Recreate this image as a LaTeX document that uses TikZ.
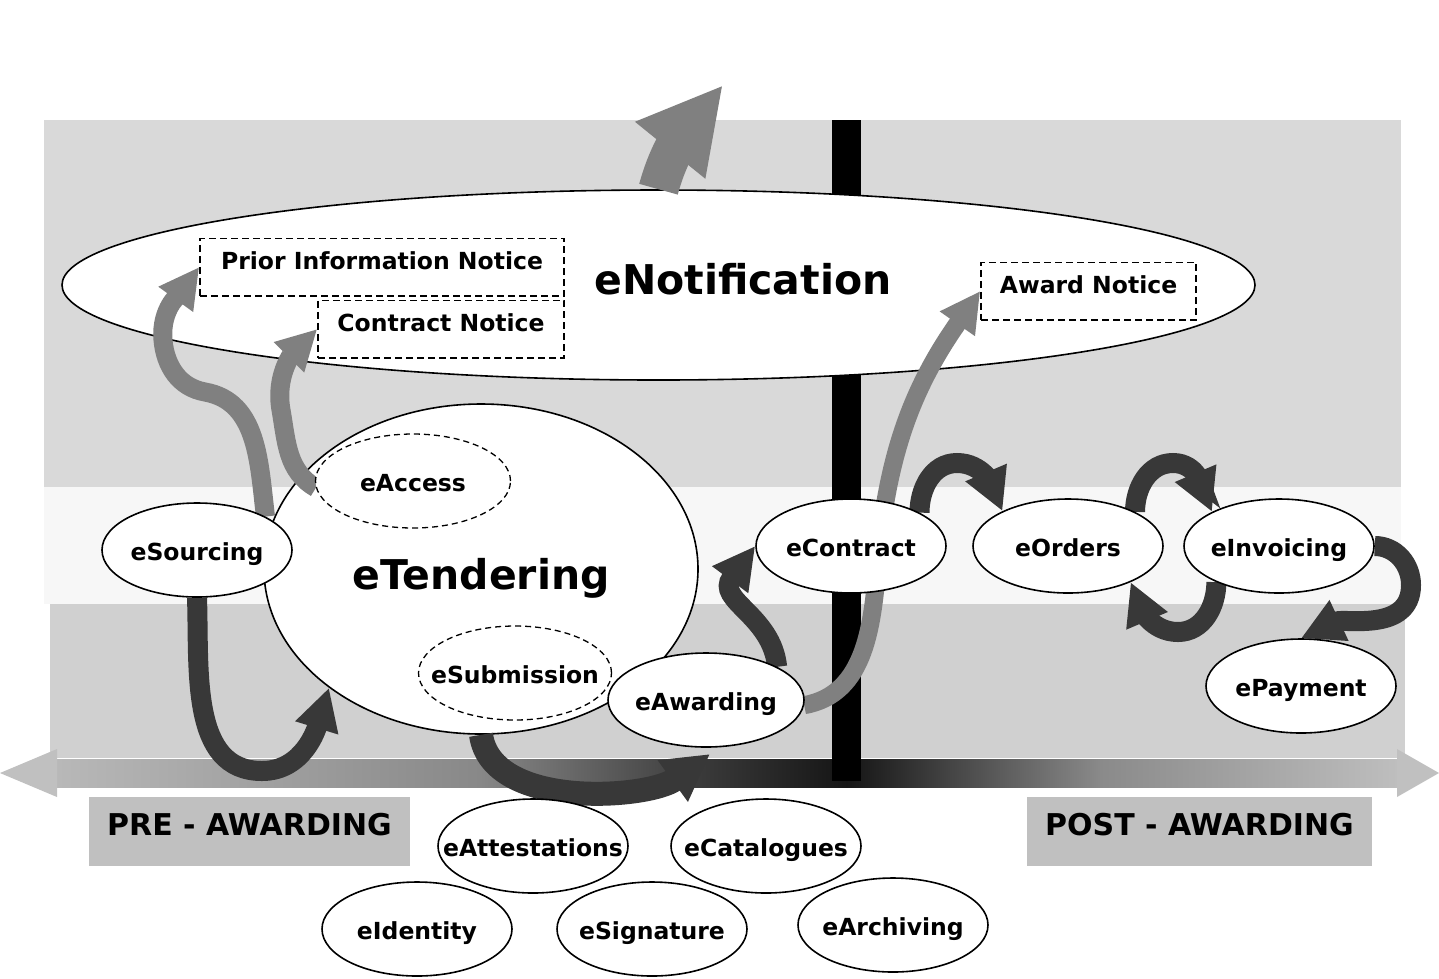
\documentclass[tikz,border=0pt]{standalone}
\usepackage{fontspec}
\setmainfont{DejaVu Sans}
\usepackage{tikz}
\usetikzlibrary{shapes.geometric,arrows.meta}
\pgfdeclarelayer{front}
\pgfsetlayers{main,front}
\definecolor{bandtop}{HTML}{D9D9D9}
\definecolor{bandmid}{HTML}{F7F7F7}
\definecolor{bandlow}{HTML}{D0D0D0}
\definecolor{phasegray}{HTML}{C0C0C0}
\definecolor{headgray}{HTML}{C0C0C0}
\definecolor{arrowgray}{HTML}{808080}
\definecolor{arrowdark}{HTML}{383838}
\definecolor{tlA}{HTML}{B8B8B8}
\definecolor{tlB}{HTML}{888888}
\definecolor{tlC}{HTML}{3A3A3A}
\definecolor{tlD}{HTML}{151515}
\definecolor{tlE}{HTML}{404040}
\definecolor{tlF}{HTML}{8A8A8A}
\definecolor{tlG}{HTML}{BEBEBE}
\newcommand{\lbl}[1]{\makebox[0pt]{#1}} % keeps the ellipse at its own size
\tikzset{
    x=1pt, y=1pt, % one unit is one pixel of the original picture
    }

\begin{document}
\begin{tikzpicture}[
smallnode/.style={ellipse, draw=black, line width=1.6pt, fill=white, minimum width=190pt, minimum height=94pt, inner sep=0pt, text height=20pt, text depth=0pt, font=\bfseries\fontsize{23.5}{28}\selectfont},
subnode/.style={smallnode, dash pattern=on 6pt off 4pt, line width=1.3pt},
notebox/.style={rectangle, draw=black, dash pattern=on 7pt off 4pt, line width=1.5pt, fill=white, inner sep=0pt, text height=31.5pt, text depth=26pt, font=\bfseries\fontsize{23.5}{28}\selectfont},
phasebox/.style={rectangle, fill=phasegray, inner sep=0pt, text height=38pt, text depth=31pt, font=\bfseries\fontsize{30}{36}\selectfont},
bignode/.style={ellipse, draw=black, line width=1.6pt, fill=white, inner sep=0pt, font=\bfseries\fontsize{41}{48}\selectfont},
grayarrow/.style={draw=arrowgray, line width=19pt, -{Triangle[length=40pt,width=40pt]}},
darkarrow/.style={draw=arrowdark, line width=20pt, -{Triangle[length=42pt,width=42pt]}},
]
\useasboundingbox (0,0) rectangle (1439,-978);
\fill[white] (0,0) rectangle (1439,-978);

% bands
\fill[bandtop] (44,-120) rectangle (1401,-487);
\fill[bandmid] (44,-487) rectangle (1401,-604);
\fill[bandlow] (50,-604) rectangle (1405,-757.5);

% time line
\foreach \xa/\xb/\ca/\cb in {57/481/tlA/tlB, 480/701/tlB/tlC, 700/847/tlC/tlD, 846/941/tlD/tlE, 940/1101/tlE/tlF, 1100/1397/tlF/tlG}
    \shade[left color=\ca, right color=\cb] (\xa,-759) rectangle (\xb,-787);
\fill[headgray] (57,-749) -- (0,-773) -- (57,-797) -- cycle;
\fill[headgray] (1397,-749) -- (1439,-773) -- (1397,-797) -- cycle;
\fill[black] (832,-120) rectangle (861,-781);

\node[phasebox, minimum width=321pt] (pre) at (249.5,-831.5) {PRE - AWARDING};
\node[phasebox, minimum width=345pt] (post) at (1199.5,-831.5) {POST - AWARDING};

% notification and tendering
\node[bignode, minimum width=1193pt, minimum height=190pt] (notif) at (658.5,-285) {};
\node[font=\bfseries\fontsize{41}{48}\selectfont, inner sep=0pt] (notiftitle) at (743,-279.5) {eNotification};
\node[notebox, minimum width=364pt] (pin) at (382,-267) {Prior Information Notice};
\node[notebox, minimum width=246pt] (cn) at (441,-329) {Contract Notice};
\node[notebox, minimum width=215pt] (an) at (1088.5,-291) {Award Notice};
\node[bignode, minimum width=434pt, minimum height=330pt, text height=40pt, text depth=0pt] (tend) at (481,-569) {\lbl{eTendering}};
\coordinate (up) at (723,-85);
\coordinate (ahead) at (710,-754);

\begin{pgfonlayer}{front}
\node[subnode, minimum width=195pt] (access) at (413,-481) {\lbl{eAccess}};
\node[subnode, minimum width=193pt] (submission) at (515,-673) {\lbl{eSubmission}};
\node[smallnode] (sourcing) at (197,-550) {\lbl{eSourcing}};
\node[smallnode, minimum width=196pt] (awarding) at (706,-700) {\lbl{eAwarding}};
\node[smallnode] (contract) at (851,-546) {\lbl{eContract}};
\node[smallnode] (orders) at (1068,-546) {\lbl{eOrders}};
\node[smallnode] (invoicing) at (1279,-546) {\lbl{eInvoicing}};
\node[smallnode] (payment) at (1301,-686) {\lbl{ePayment}};
\node[smallnode] (attest) at (533,-846) {\lbl{eAttestations}};
\node[smallnode] (catalog) at (766,-846) {\lbl{eCatalogues}};
\node[smallnode] (identity) at (417,-929) {\lbl{eIdentity}};
\node[smallnode] (signature) at (652,-929) {\lbl{eSignature}};
\node[smallnode] (archiving) at (893,-925) {\lbl{eArchiving}};
\end{pgfonlayer}

% arrows
\draw[grayarrow, line width=40pt, -{Triangle[length=84pt,width=84pt]}] (notif.north) to[out=75,in=231] (up);
\draw[grayarrow] (sourcing.26) to[out=97,in=-10] (205,-392) to[out=170,in=-85] (163,-340) to[out=95,in=234] (pin.west);
\draw[grayarrow] (access.184) to[out=150,in=-80] (281,-410) to[out=100,in=225] (cn.west);
\draw[grayarrow, line width=18pt] (awarding.-3) to[out=10,in=-95] (878,-560) to[out=85,in=235] (an.west);
\draw[darkarrow] (sourcing.south) to[out=-88,in=180] (262,-771) to[out=0,in=-107] (tend.218);
\draw[darkarrow, line width=24pt, -{Triangle[length=46pt,width=48pt]}] (tend.south) to[out=-82,in=216,looseness=0.85] (ahead);
\draw[darkarrow] (awarding.25) .. controls (772,-615) and (715,-600) .. (contract.west);
\draw[darkarrow] (contract.26) to[out=90,in=180] (957,-463) to[out=0,in=113] (orders.152);
\draw[darkarrow] (orders.27) to[out=90,in=180] (1173,-463) to[out=0,in=113] (invoicing.153);
\draw[darkarrow] (invoicing.210) to[out=-90,in=0] (1178,-632) to[out=180,in=-67] (orders.-30);
\draw[darkarrow] (invoicing.east) to[out=0,in=90] (1411,-585) to[out=-90,in=25] (payment.north);
\end{tikzpicture}
\end{document}
